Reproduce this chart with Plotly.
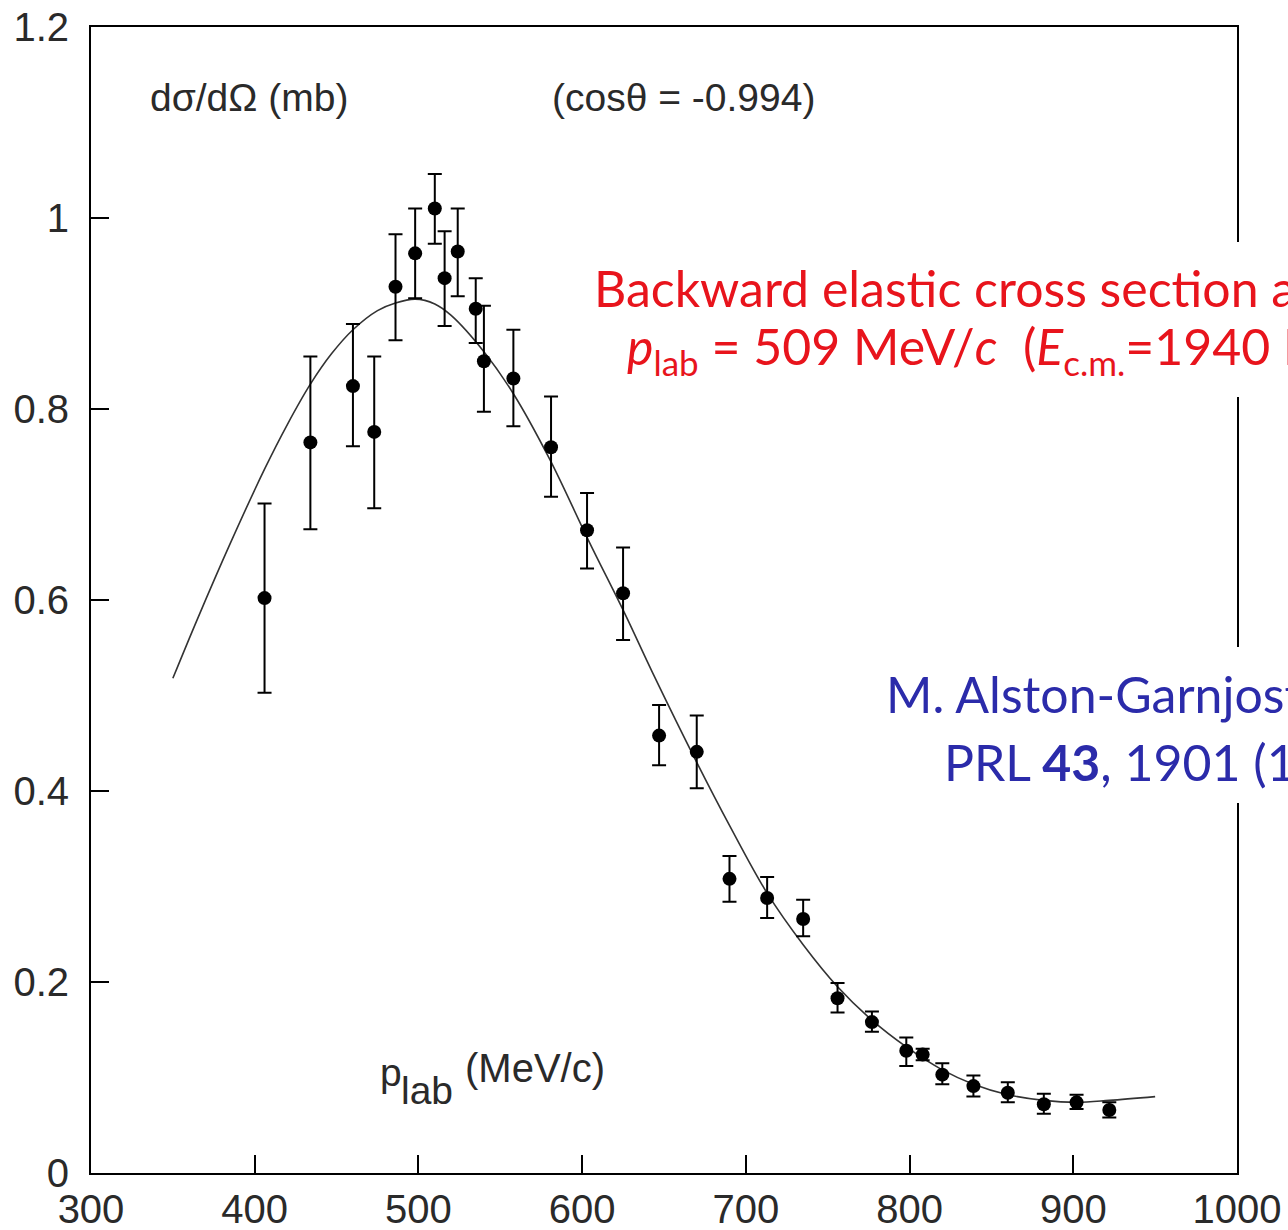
import plotly.graph_objects as go

# ---- data ----
p_lab = [406, 434, 460, 473, 486, 498, 510, 516, 524, 535, 540, 558, 581, 603, 625,
         647, 670, 690, 713, 735, 756, 777, 798, 808, 820, 839, 860, 882, 902, 922]
dsig = [0.602, 0.765, 0.824, 0.776, 0.928, 0.963, 1.010, 0.937, 0.965, 0.905, 0.850, 0.832, 0.760, 0.673, 0.607,
        0.458, 0.441, 0.308, 0.288, 0.266, 0.183, 0.158, 0.128, 0.124, 0.103, 0.091, 0.084, 0.072, 0.074, 0.066]
err_plus = [0.099, 0.090, 0.065, 0.079, 0.055, 0.047, 0.036, 0.049, 0.045, 0.032, 0.058, 0.051, 0.053, 0.039, 0.048,
            0.032, 0.038, 0.024, 0.022, 0.020, 0.016, 0.011, 0.014, 0.006, 0.012, 0.011, 0.011, 0.011, 0.008, 0.008]
err_minus = [0.099, 0.091, 0.063, 0.080, 0.056, 0.047, 0.037, 0.050, 0.047, 0.036, 0.053, 0.050, 0.052, 0.040, 0.049,
             0.031, 0.038, 0.024, 0.021, 0.018, 0.015, 0.010, 0.016, 0.006, 0.010, 0.011, 0.010, 0.010, 0.007, 0.008]

fit_x = [350, 365, 385, 406, 420, 434, 447, 460, 475, 486, 498, 510, 520, 540, 558, 580, 604, 626, 643,
         670, 690, 713, 735, 756, 777, 798, 820, 839, 860, 882, 902, 922, 950]
fit_y = [0.518, 0.580, 0.659, 0.737, 0.784, 0.826, 0.858, 0.883, 0.903, 0.911, 0.915, 0.910, 0.898, 0.860,
         0.816, 0.748, 0.662, 0.586, 0.524, 0.430, 0.364, 0.293, 0.239, 0.195, 0.160, 0.132, 0.108, 0.093, 0.082,
         0.076, 0.074, 0.076, 0.080]

x_ticks = [300, 400, 500, 600, 700, 800, 900, 1000]
y_ticks = [0, 0.2, 0.4, 0.6, 0.8, 1.0, 1.2]
y_ticktext = ["0", "0.2", "0.4", "0.6", "0.8", "1", "1.2"]

AX_FONT = "Liberation Sans, Arial, Helvetica, sans-serif"
TXT = "#2a2a2a"

fig = go.Figure()
fig.add_trace(go.Scatter(x=fit_x, y=fit_y, mode="lines",
                         line=dict(color="#333333", width=1.6, shape="spline", smoothing=1.0),
                         hoverinfo="skip", showlegend=False))
fig.add_trace(go.Scatter(x=p_lab, y=dsig, mode="markers",
                         marker=dict(color="black", size=14),
                         error_y=dict(type="data", array=err_plus, arrayminus=err_minus,
                                      color="black", thickness=2, width=7),
                         showlegend=False))

axis_common = dict(showline=True, linewidth=2, linecolor="black", mirror=True,
                   ticks="inside", ticklen=18, tickwidth=2, tickcolor="black",
                   showgrid=False, zeroline=False, automargin=False,
                   tickfont=dict(family=AX_FONT, size=40, color=TXT))
fig.update_xaxes(range=[300, 1000], tickvals=x_ticks, ticklabelstandoff=0, **axis_common)
fig.update_yaxes(range=[0, 1.2], tickvals=y_ticks, ticktext=y_ticktext, ticklabelstandoff=12, **axis_common)

anns = []
# texts inside the original graph
anns.append(dict(text="dσ/dΩ (mb)", x=0.0497, y=0.9389, font=dict(family=AX_FONT, size=39, color=TXT)))
anns.append(dict(text="(cosθ = -0.994)", x=0.4005, y=0.9389, font=dict(family=AX_FONT, size=39, color=TXT)))
anns.append(dict(text="p", x=0.2505, y=0.0873, font=dict(family=AX_FONT, size=39, color=TXT)))
anns.append(dict(text="lab", x=0.2685, y=0.0724, font=dict(family=AX_FONT, size=39, color=TXT)))
anns.append(dict(text="(MeV/c)", x=0.325, y=0.0915, font=dict(family=AX_FONT, size=40, color=TXT)))

RED = "#E8141C"
BLUE = "#2B2BAA"
CAL = "Lato, Carlito, Calibri, sans-serif"
FS = 50
anns.append(dict(text="Backward elastic cross section at", x=0.4372, y=0.7723,
                 font=dict(family=CAL, size=FS, color=RED)))
anns.append(dict(text="<i>p</i><sub>lab</sub> = 509 MeV/<i>c</i>\u00a0\u00a0(<i>E</i><sub>c.m.</sub>=1940 MeV)",
                 x=0.466, y=0.7182, font=dict(family=CAL, size=FS, color=RED)))
anns.append(dict(text="M. Alston-Garnjost <i>et al.</i>,", x=0.692, y=0.418,
                 font=dict(family=CAL, size=FS, color=BLUE)))
anns.append(dict(text="PRL <b>43</b>, 1901 (1979)", x=0.7426, y=0.3586,
                 font=dict(family=CAL, size=FS, color=BLUE)))

for a in anns:
    a.update(xref="paper", yref="paper", xanchor="left", yanchor="middle", showarrow=False, align="left")

# white text-box backgrounds of the overlaid labels (they hide the right frame line)
shapes = [
    dict(type="rect", xref="paper", yref="paper", x0=0.431, x1=1.2, y0=0.6771, y1=0.8124,
         fillcolor="white", line=dict(width=0), layer="above"),
    dict(type="rect", xref="paper", yref="paper", x0=0.6885, x1=1.2, y0=0.3229, y1=0.459,
         fillcolor="white", line=dict(width=0), layer="above"),
]

fig.update_layout(width=1288, height=1230,
                  margin=dict(l=91, r=51, t=27, b=57, pad=0),
                  paper_bgcolor="white", plot_bgcolor="white",
                  annotations=anns, shapes=shapes, showlegend=False)

fig.write_html("out.html")
